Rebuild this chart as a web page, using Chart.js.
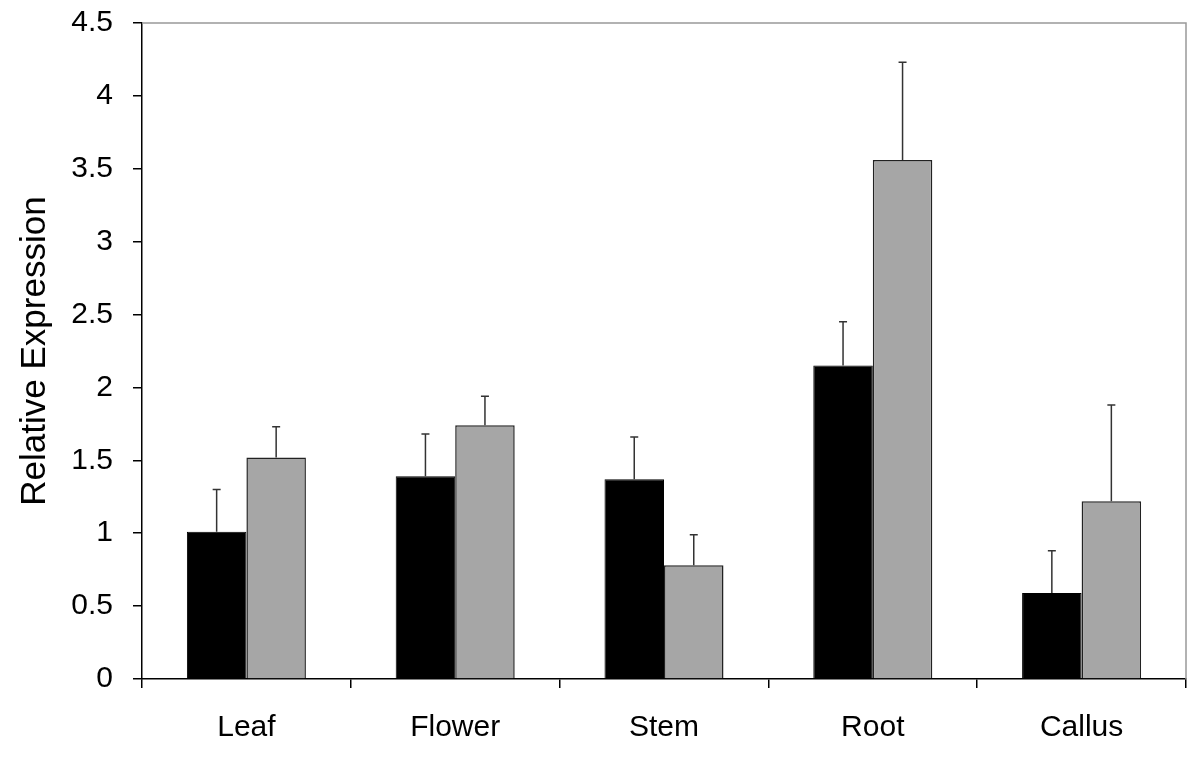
<!DOCTYPE html>
<html>
<head>
<meta charset="utf-8">
<script src="https://cdn.jsdelivr.net/npm/chart.js@4/dist/chart.umd.min.js"></script>
<style>
  html, body { margin: 0; padding: 0; background: #fff; }
  canvas { display: block; }
</style>
</head>
<body>
<canvas id="exprChart" width="1200" height="762"></canvas>
<script>
const tissues = ["Leaf", "Flower", "Stem", "Root", "Callus"];
const seriesA = [1.01, 1.39, 1.37, 2.15, 0.59];
const seriesB = [1.52, 1.74, 0.78, 3.56, 1.22];
const errorsA = [0.29, 0.29, 0.29, 0.30, 0.29];
const errorsB = [0.21, 0.20, 0.21, 0.67, 0.66];
const yTickLabels = ["0", "0.5", "1", "1.5", "2", "2.5", "3", "3.5", "4", "4.5"];

Chart.defaults.font.family = '"Liberation Sans", Arial, sans-serif';
Chart.defaults.color = "#000";

// upward error bars with a small cap
const errorBars = {
  id: "errorBars",
  afterDatasetsDraw(chart) {
    const ctx = chart.ctx;
    const y = chart.scales.y;
    const errs = [errorsA, errorsB];
    ctx.save();
    ctx.strokeStyle = "#333";
    ctx.lineWidth = 1.5;
    chart.data.datasets.forEach(function (ds, i) {
      const meta = chart.getDatasetMeta(i);
      meta.data.forEach(function (bar, j) {
        const top = y.getPixelForValue(ds.data[j] + errs[i][j]);
        ctx.beginPath();
        ctx.moveTo(bar.x, bar.y);
        ctx.lineTo(bar.x, top);
        ctx.moveTo(bar.x - 4, top);
        ctx.lineTo(bar.x + 4, top);
        ctx.stroke();
      });
    });
    ctx.restore();
  },
};

// grey frame on the top and right of the plot area
const plotFrame = {
  id: "plotFrame",
  afterDraw(chart) {
    const a = chart.chartArea;
    const ctx = chart.ctx;
    ctx.save();
    ctx.strokeStyle = "#999";
    ctx.lineWidth = 1.5;
    ctx.beginPath();
    ctx.moveTo(a.left, a.top);
    ctx.lineTo(a.right, a.top);
    ctx.lineTo(a.right, a.bottom);
    ctx.stroke();
    ctx.restore();
  },
};

const ctxExpr = document.getElementById("exprChart").getContext("2d");
const exprChart = new Chart(ctxExpr, {
  type: "bar",
  data: {
    labels: tissues,
    datasets: [
      {
        label: "A",
        data: seriesA,
        backgroundColor: "#000",
        borderColor: "#000",
        borderWidth: 1,
      },
      {
        label: "B",
        data: seriesB,
        backgroundColor: "#a6a6a6",
        borderColor: "#222",
        borderWidth: 1.5,
      },
    ],
  },
  options: {
    responsive: false,
    animation: false,
    barPercentage: 1,
    categoryPercentage: 0.57,
    layout: { padding: { top: 23, right: 14, left: 0, bottom: 0 } },
    plugins: {
      legend: { display: false },
      tooltip: { enabled: false },
    },
    scales: {
      x: {
        grid: { offset: true, drawOnChartArea: false, tickLength: 9, color: "#000", lineWidth: 1.5 },
        border: { color: "#000", width: 1.5 },
        ticks: { font: { size: 30 }, color: "#000", padding: 22 },
        afterFit(scale) { scale.height = 83; },
      },
      y: {
        min: 0,
        max: 4.5,
        grid: { drawOnChartArea: false, tickLength: 9, color: "#000", lineWidth: 1.5 },
        border: { color: "#000", width: 1.5 },
        ticks: {
          stepSize: 0.5,
          font: { size: 30 },
          color: "#000",
          padding: 20,
          callback: function (v, i) { return yTickLabels[i]; },
        },
        title: {
          display: true,
          text: "Relative Expression",
          font: { size: 35 },
          color: "#000",
          padding: { top: 14, bottom: 0 },
        },
        afterFit(scale) {
          scale.width = 142;
          scale.paddingTop = 0;
          scale.paddingBottom = 0;
        },
      },
    },
  },
  plugins: [errorBars, plotFrame],
});
</script>
</body>
</html>
